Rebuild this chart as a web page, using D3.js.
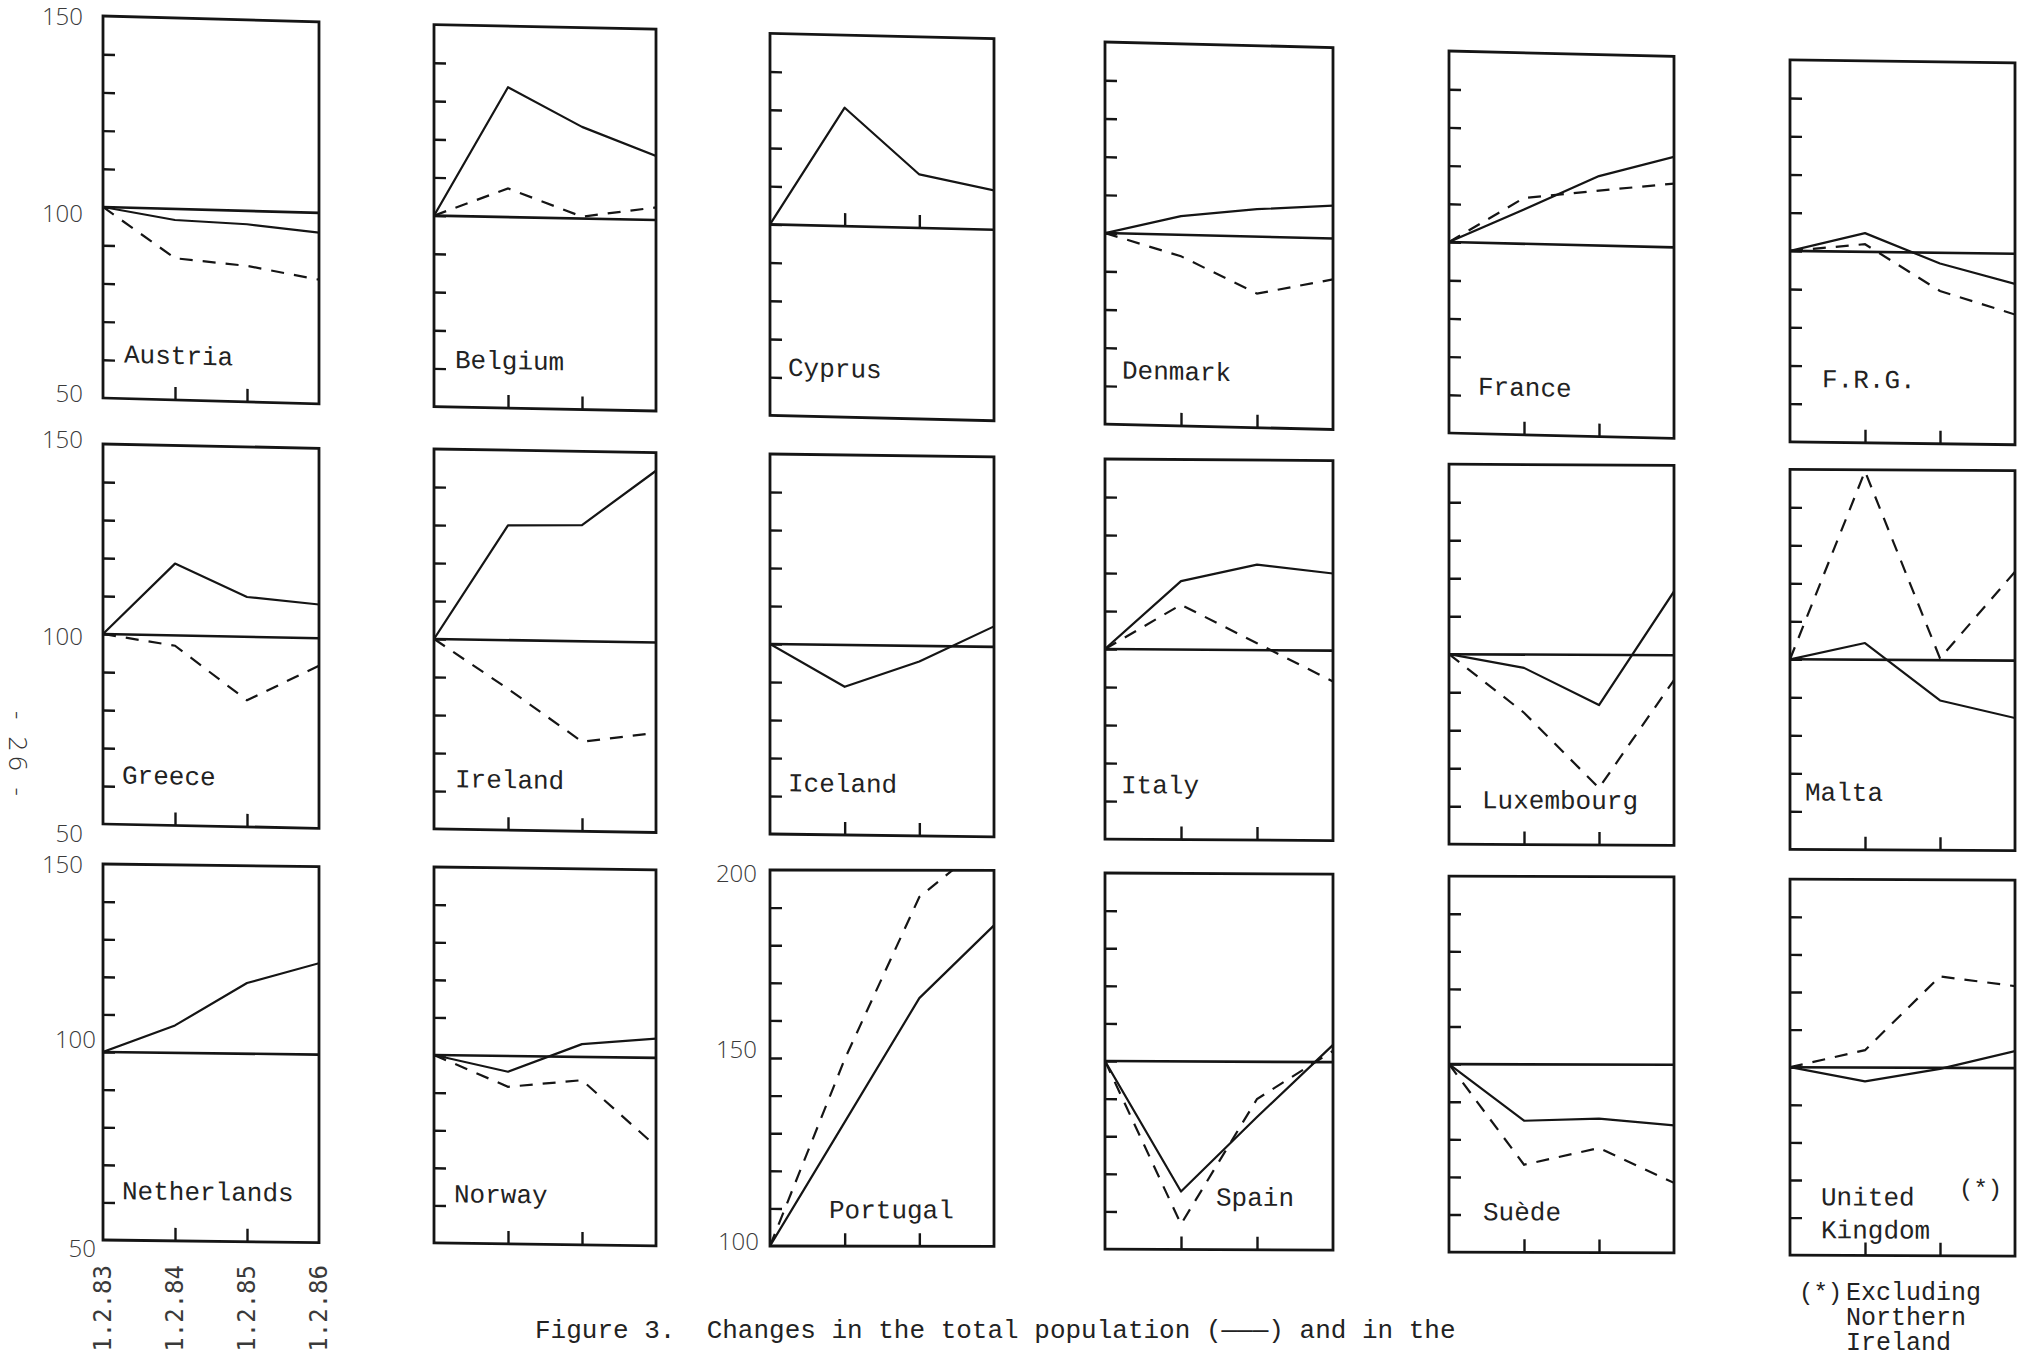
<!DOCTYPE html>
<html>
<head>
<meta charset="utf-8">
<script src="https://cdn.jsdelivr.net/npm/d3@7"></script>
<style>
body { margin: 0; background: #fff; }
svg { display: block; }
.mono { font-family: "Liberation Mono", "DejaVu Sans Mono", monospace; }
.num { font-family: "Open Sans", "DejaVu Sans", sans-serif; font-weight: 300; fill: #3a3a3a; }
</style>
</head>
<body>
<svg id="chart" width="2031" height="1360"></svg>
<script>
// ---- data (index, 1.2.83 = 100) ----
const countries = ["Austria", "Belgium", "Cyprus", "Denmark", "France", "F.R.G.",
  "Greece", "Ireland", "Iceland", "Italy", "Luxembourg", "Malta",
  "Netherlands", "Norway", "Portugal", "Spain", "Suède", "United Kingdom"];
const dates = ["1.2.83", "1.2.84", "1.2.85", "1.2.86"];

// total population (solid)
const totalPop = [
  [100, 97.1, 96.5, 94.8],
  [100, 134, 124, 116.8],
  [100, 131, 114, 110.3],
  [100, 104.9, 107.2, 108.6],
  [100, 109, 118.2, 123.7],
  [100, 104.9, 97.2, 92.1],
  [100, 118.9, 110.5, 108.9],
  [100, 130.2, 130.6, 145.2],
  [100, 89, 95.9, 105.4],
  [100, 118, 122.5, 120.3],
  [100, 96.5, 86.8, 116.8],
  [100, 104.4, 89.4, 84.9],
  [100, 107.3, 118.8, 124.3],
  [100, 95.8, 103.4, 105.1],
  [100, 133, 166, 185.4],
  [100, 65.4, 85.3, 104.6],
  [100, 85, 85.6, 83.9],
  [100, 96.3, 99.7, 104.5]
];

// second series (dashed), null where not drawn
const otherPop = [
  [100, 87.1, 85.6, 82.5],
  [100, 107.5, 100.5, 103.3],
  null,
  [100, 94.4, 85.1, 89.3],
  [100, 112, 114.4, 116.7],
  [100, 102, 90, 84.1],
  [100, 97.3, 83.3, 92.8],
  [100, 87.2, 73.6, 76.2],
  null,
  [100, 111.8, 101.8, 91.9],
  [100, 84.7, 65, 93.5],
  [100, 149.6, 100.5, 123.4],
  null,
  [100, 91.8, 93.8, 76.5],
  [100, 149.7, 192.9, 209],
  [100, 56.7, 90.1, 103],
  [100, 73.3, 77.8, 68.6],
  [100, 104.6, 124.3, 121.8]
];

const yRanges = countries.map(c => c === "Portugal" ? [100, 200] : [50, 150]);
const tickStep = 10;

// ---- layout (scanned page, slightly sheared) ----
const colLeft = [103, 434, 770, 1105, 1449, 1790];
const colWidth = [216, 222, 224, 228, 225, 225];
const rowTop = [16, 444, 864];
const rowHeight = [382, 380, 376];
const rowSlope = [0.026, 0.015, 0.009];
const panelSkew = [0.027, 0.02, 0.024, 0.024, 0.024, 0.013,
  0.02, 0.016, 0.013, 0.007, 0.005, 0.006,
  0.012, 0.013, 0.002, 0.005, 0.003, 0.004];
const labelDx = [21, 21, 18, 17, 29, 32, 19, 21, 18, 16, 33, 15, 19, 20, 59, 111, 34, 31];
const labelUp = [36, 39, 40, 46, 39, 55, 41, 42, 43, 46, 36, 49, 41, 41, 28, 44, 32, 50];
const yLabelNudge = [[9, 15, 4], [4, 11, 18], [9, -4, 17]];
const yLabelRight = [[83, 83, 83], [83, 83, 83], [83, 96, 96]];

const ink = "#151515";
const svg = d3.select("#chart");
svg.append("rect").attr("width", 2031).attr("height", 1360).attr("fill", "#fff");

countries.forEach((name, i) => {
  const r = Math.floor(i / 6), c = i % 6;
  const w = colWidth[c], h = rowHeight[r];
  const left = colLeft[c];
  const top = rowTop[r] + rowSlope[r] * (left - colLeft[0]);
  const [lo, hi] = yRanges[i];

  const x = d3.scalePoint().domain(dates).range([0, w]);
  const y = d3.scaleLinear().domain([lo, hi]).range([h, 0]);

  const g = svg.append("g")
    .attr("transform", `translate(${left},${top}) skewY(${Math.atan(panelSkew[i]) * 180 / Math.PI})`);

  g.append("clipPath").attr("id", "clip" + i)
    .append("rect").attr("width", w).attr("height", h);

  // inner ticks on the left edge
  g.append("g")
    .call(d3.axisRight(y).tickValues(d3.range(lo + tickStep, hi, tickStep)).tickSize(12).tickFormat(""))
    .call(a => a.select(".domain").remove())
    .selectAll("line").attr("stroke", ink).attr("stroke-width", 2.4);

  // inner ticks on the time axis (Cyprus has them on the 100 line)
  const xBase = name === "Cyprus" ? y(100) : h;
  g.append("g")
    .attr("transform", `translate(0,${xBase})`)
    .call(d3.axisTop(x).tickValues(dates.slice(1, 3)).tickSize(13).tickFormat(""))
    .call(a => a.select(".domain").remove())
    .selectAll("line").attr("stroke", ink).attr("stroke-width", 2.4);

  // base line at 100
  if (lo < 100 && hi > 100) {
    g.append("line")
      .attr("x1", 0).attr("x2", w)
      .attr("y1", y(100)).attr("y2", y(100))
      .attr("stroke", ink).attr("stroke-width", 2.6);
  }

  const line = d3.line().x((d, j) => x(dates[j])).y(d => y(d));
  const plot = g.append("g").attr("clip-path", `url(#clip${i})`);

  if (otherPop[i]) {
    plot.append("path")
      .attr("d", line(otherPop[i]))
      .attr("fill", "none").attr("stroke", ink)
      .attr("stroke-width", 2.2).attr("stroke-dasharray", "13,10");
  }
  plot.append("path")
    .attr("d", line(totalPop[i]))
    .attr("fill", "none").attr("stroke", ink)
    .attr("stroke-width", 2.2).attr("stroke-linejoin", "round");

  g.append("rect")
    .attr("width", w).attr("height", h)
    .attr("fill", "none").attr("stroke", ink).attr("stroke-width", 2.8);

  // country name
  const lines = name === "United Kingdom" ? ["United", "Kingdom"] : [name];
  const t = g.append("text").attr("class", "mono")
    .attr("font-size", 26).attr("fill", "#222")
    .attr("x", labelDx[i]).attr("y", h - labelUp[i]);
  t.selectAll("tspan").data(lines).join("tspan")
    .attr("x", labelDx[i]).attr("dy", (d, k) => k ? 33 : 0).text(d => d);
  if (name === "United Kingdom") {
    g.append("text").attr("class", "mono").attr("font-size", 24).attr("fill", "#222")
      .attr("x", 169).attr("y", h - 60).text("(*)");
  }

  // value labels: left column and Portugal
  if (c === 0 || name === "Portugal") {
    const vals = [hi, (lo + hi) / 2, lo];
    const nudge = name === "Portugal" ? [12, 0, 4] : yLabelNudge[r];
    const right = name === "Portugal" ? [left - 13, left - 13, left - 11] : yLabelRight[r];
    vals.forEach((v, k) => {
      svg.append("text").attr("class", "num")
        .attr("font-size", 24).attr("text-anchor", "end")
        .attr("x", right[k]).attr("y", top + y(v) + nudge[k])
        .text(v);
    });
  }

  // date labels under the Netherlands panel
  if (name === "Netherlands") {
    dates.forEach(d => {
      svg.append("text")
        .attr("font-family", "'DejaVu Sans Mono', monospace")
        .attr("font-size", 24).attr("fill", "#3a3a3a")
        .attr("text-anchor", "end").attr("dominant-baseline", "central")
        .attr("transform", `translate(${left + x(d)},1265) rotate(-90)`)
        .text(d);
    });
  }
});

// page number
svg.append("text")
  .attr("font-family", "'Open Sans', sans-serif").attr("font-weight", 300)
  .attr("font-size", 26).attr("fill", "#333").attr("letter-spacing", 5)
  .attr("text-anchor", "middle").attr("dominant-baseline", "central")
  .attr("transform", "translate(19,756) rotate(90)")
  .text("- 26 -");

// caption
svg.append("text").attr("class", "mono")
  .attr("font-size", 26).attr("fill", "#222")
  .attr("x", 535).attr("y", 1338)
  .style("white-space", "pre")
  .text("Figure 3.  Changes in the total population (———) and in the");

// footnote
svg.append("text").attr("class", "mono").attr("font-size", 24).attr("fill", "#222")
  .attr("x", 1799).attr("y", 1300).text("(*)");
[["Excluding", 1300], ["Northern", 1325], ["Ireland", 1350]].forEach(([s, yy]) => {
  svg.append("text").attr("class", "mono").attr("font-size", 25).attr("fill", "#222")
    .attr("x", 1846).attr("y", yy).text(s);
});
</script>
</body>
</html>
